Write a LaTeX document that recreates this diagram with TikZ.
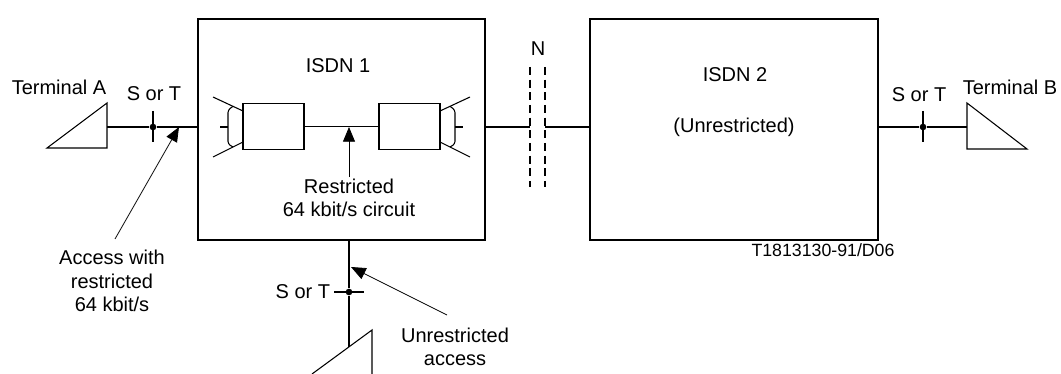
\documentclass[tikz,border=0pt]{standalone}
\usepackage{fontspec}
\setmainfont{Liberation Sans}
\usetikzlibrary{arrows.meta,positioning,calc}

\begin{document}
\begin{tikzpicture}[x=0.75pt, y=-0.75pt, line width=0.8pt,
	lbl/.style={font=\fontsize{15}{17.5}\selectfont, inner sep=1pt, align=center},
	net/.style={draw, minimum width=#1, minimum height=165.75pt, inner sep=0pt},
	relay/.style={draw, minimum width=45.75pt, minimum height=34.5pt, inner sep=0pt},
	refdot/.style={circle, fill, inner sep=0pt, minimum size=5pt},
	pointer/.style={line width=0.6pt, -{Triangle[length=11pt, width=9pt]}},
	cut/.style={dash pattern=on 6pt off 3.5pt}]
				\useasboundingbox (0,0) rectangle (1061,374);
				
				% Networks
				\node[net=215.25pt] (isdn1) at (341.5,129.5) {};
				\node[net=216pt] (isdn2) at (734,129.5) {};
				\node[lbl] (isdn1name) at (338,66) {ISDN 1};
				\node[lbl] (isdn2name) at (735,75) {ISDN 2};
				\node[lbl] (isdn2kind) at (734,127) {(Unrestricted)};
				
				% Restricted circuit inside ISDN 1
				\node[relay] (relayL) at (273.5,126.5) {};
				\node[relay] (relayR) at (409.5,126.5) {};
				\draw (relayL) -- (relayR);
				\draw (243,111) -- (213,97) (243,142) -- (213,157);
				\draw[rounded corners=2pt] (233,106.3) -- (228,110) -- (228,144) -- (233,147);
				\draw (220,127) -- (228,127);
				\draw (440,111) -- (470,97) (440,142) -- (470,157);
				\draw[rounded corners=2pt] (450,106.3) -- (455,110) -- (455,144) -- (450,147);
				\draw (455,127) -- (463,127);
				
				% Network boundary N
				\node[lbl] (nname) at (538,49) {N};
				\coordinate (nL) at (530,127);
				\coordinate (nR) at (545,127);
				\draw (isdn1.east |- nL) -- (nL);
				\draw (nR) -- (nR -| isdn2.west);
				\draw[cut] (530,67) -- (530,187);
				\draw[cut] (545,67) -- (545,187);
				
				% Terminal A
				\draw (47,148) -- (107,103) -- (107,148) -- cycle;
				\coordinate (termA) at (107,127);
				\node[lbl] (termAname) at (59,87) {Terminal A};
				\node[refdot] (refA) at (153,127) {};
				\draw (153,111) -- (153,142);
				\node[lbl] (refAname) at (154,94) {S or T};
				\draw (termA) -- (refA) -- (refA -| isdn1.west);
				
				% Terminal B
				\draw (967,103) -- (1027,149) -- (967,149) -- cycle;
				\coordinate (termB) at (967,127);
				\node[lbl] (termBname) at (1010,87) {Terminal B};
				\node[refdot] (refB) at (923,127) {};
				\draw (923,111) -- (923,142);
				\node[lbl] (refBname) at (919,95) {S or T};
				\draw (isdn2.east |- refB) -- (refB) -- (termB);
				
				% Terminal below ISDN 1
				\draw (312,374) -- (372,330) -- (372,374);
				\coordinate (termC) at (349,347);
				\node[refdot] (refC) at (349,292) {};
				\draw (334,292) -- (364,292);
				\node[lbl, anchor=east] (refCname) at (332,292) {S or T};
				\draw (termC |- isdn1.south) -- (refC) -- (termC);
				
				% Access pointers
				\coordinate (tipA) at (179,127);
				\coordinate (tailA) at (115,239);
				\node[lbl] (accessA) at (112,281) {Access with\\restricted\\64 kbit/s};
				\draw[pointer] (tailA) -- (tipA);
				
				\coordinate (tipR) at (349,127);
				\node[lbl] (restrict) at (349,198) {Restricted\\64 kbit/s circuit};
				\draw[pointer] (restrict.north) -- (tipR);
				
				\coordinate (tipU) at (351,267);
				\coordinate (tailU) at (447,315);
				\node[lbl] (unrestrict) at (455,347) {Unrestricted\\access};
				\draw[pointer] (tailU) -- (tipU);
				
				\node[font=\fontsize{13.3}{16}\selectfont, inner sep=0pt] (figcode) at (823,250) {T1813130-91/D06};
			\end{tikzpicture}
\end{document}
